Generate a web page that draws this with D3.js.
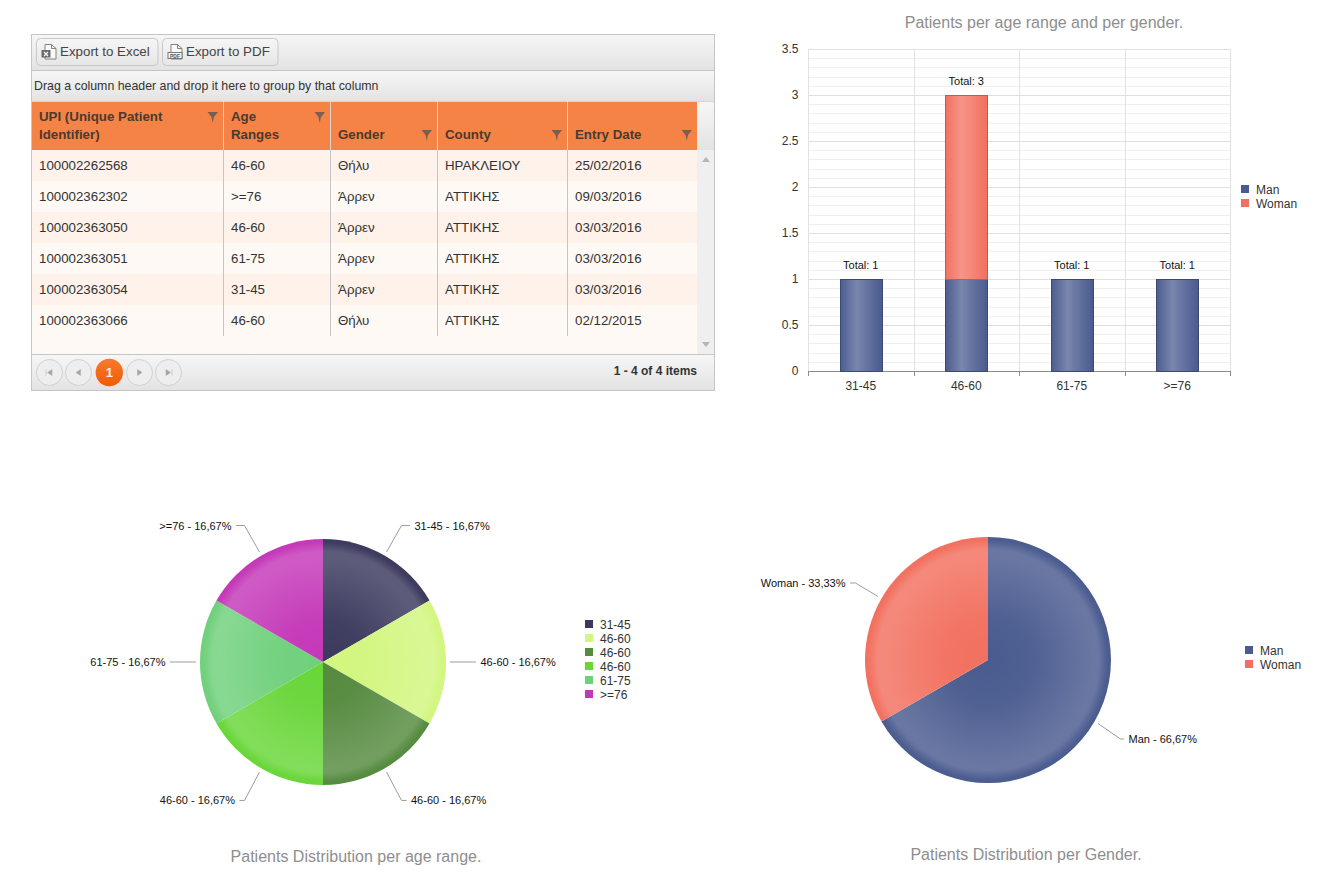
<!DOCTYPE html>
<html>
<head>
<meta charset="utf-8">
<script src="https://cdn.jsdelivr.net/npm/d3@7"></script>
<style>
    html, body { margin: 0; padding: 0; background: #fff; overflow: hidden; }
    svg { display: block; font-family: "Liberation Sans", Arial, sans-serif; }
</style>
</head>
<body>
<svg id="page" width="1322" height="870"></svg>
<script>
// grid data
var gridColumns = [["UPI (Unique Patient", "Identifier)"], ["Age", "Ranges"], ["Gender"], ["County"], ["Entry Date"]];
var upiValues = ["100002262568", "100002362302", "100002363050", "100002363051", "100002363054", "100002363066"];
var rowAges = ["46-60", ">=76", "46-60", "61-75", "31-45", "46-60"];
var rowGenders = ["Θήλυ", "Άρρεν", "Άρρεν", "Άρρεν", "Άρρεν", "Θήλυ"];
var rowCounties = ["ΗΡΑΚΛΕΙΟΥ", "ΑΤΤΙΚΗΣ", "ΑΤΤΙΚΗΣ", "ΑΤΤΙΚΗΣ", "ΑΤΤΙΚΗΣ", "ΑΤΤΙΚΗΣ"];
var rowDates = ["25/02/2016", "09/03/2016", "03/03/2016", "03/03/2016", "03/03/2016", "02/12/2015"];

// stacked bar data
var ageRanges = ["31-45", "46-60", "61-75", ">=76"];
var manCounts = [1, 1, 1, 1];
var womanCounts = [0, 2, 0, 0];
var yTicks = [0, 0.5, 1, 1.5, 2, 2.5, 3, 3.5];

// pie data
var agePieLabels = ["31-45", "46-60", "46-60", "46-60", "61-75", ">=76"];
var agePieValues = [1, 1, 1, 1, 1, 1];
var agePiePercents = ["16,67%", "16,67%", "16,67%", "16,67%", "16,67%", "16,67%"];
var agePieColors = ["#3b3a5e", "#d2f67e", "#558a3f", "#68d638", "#6fd07b", "#c438b8"];
var genderLabels = ["Man", "Woman"];
var genderValues = [2, 1];
var genderPercents = ["66,67%", "33,33%"];
var genderColors = ["#4a5b8f", "#f2705f"];

var svg = d3.select("#page");
var defs = svg.append("defs");

function addVerticalGradient(id, top, bottom) {
    var g = defs.append("linearGradient").attr("id", id).attr("x1", 0).attr("y1", 0).attr("x2", 0).attr("y2", 1);
    g.append("stop").attr("offset", "0").attr("stop-color", top);
    g.append("stop").attr("offset", "1").attr("stop-color", bottom);
}
addVerticalGradient("bar-grad", "#f6f6f6", "#e3e3e3");
addVerticalGradient("btn-grad", "#f6f6f6", "#e6e6e6");
addVerticalGradient("pager-on", "#f97b2c", "#f05a06");

// soft highlight across a column
var glass = defs.append("linearGradient").attr("id", "glass");
[[0, 0.02], [0.38, 0.26], [1, 0]].forEach(function(s) {
    glass.append("stop").attr("offset", s[0]).attr("stop-color", "#fff").attr("stop-opacity", s[1]);
});

// ring highlight on the pies, radius is the pie radius
var bevel = defs.append("radialGradient").attr("id", "bevel")
    .attr("gradientUnits", "userSpaceOnUse").attr("cx", 0).attr("cy", 0).attr("r", 123);
[[0, 0], [0.35, 0.03], [0.84, 0.17], [0.9, 0.17], [0.97, 0.02], [1, 0]].forEach(function(s) {
    bevel.append("stop").attr("offset", s[0]).attr("stop-color", "#fff").attr("stop-opacity", s[1]);
});

drawGrid(svg.append("g"));
drawBars(svg.append("g"));
drawPie(svg.append("g").attr("transform", "translate(323,662)"), agePieLabels, agePieValues, agePiePercents, agePieColors, 157, 8.5, 5);
drawPie(svg.append("g").attr("transform", "translate(988,660)"), genderLabels, genderValues, genderPercents, genderColors, 153, 5.5, 3.5);
drawLegend(agePieLabels, agePieColors, 585, 624);
drawLegend(genderLabels, genderColors, 1245, 650);
drawLegend(genderLabels, genderColors, 1241, 189);

title("Patients per age range and per gender.", 1044, 28);
title("Patients Distribution per age range.", 356, 862);
title("Patients Distribution per Gender.", 1026, 860);

function title(text, x, y) {
    svg.append("text").text(text).attr("x", x).attr("y", y)
        .attr("text-anchor", "middle").attr("font-size", 16).attr("fill", "#8e8e8e");
}

function drawLegend(labels, colors, x, y) {
    var rows = svg.append("g").selectAll("g").data(labels).enter().append("g")
        .attr("transform", function(d, i) { return "translate(" + x + "," + (y + i * 14) + ")"; });
    rows.append("rect").attr("y", -4).attr("width", 8).attr("height", 8)
        .attr("fill", function(d, i) { return colors[i]; });
    rows.append("text").text(function(d) { return d; }).attr("x", 15).attr("y", 4.5)
        .attr("font-size", 12).attr("fill", "#333");
}

function drawPie(g, labels, values, percents, colors, elbowR, upperTail, lowerTail) {
    var radius = 123, gap = 4.5;
    var slices = d3.pie().sort(null)(values);
    var arc = d3.arc().innerRadius(0).outerRadius(radius);
    var lineFrom = d3.arc().innerRadius(127).outerRadius(127);

    g.selectAll("path.slice").data(slices).enter().append("path").attr("class", "slice")
        .attr("d", arc).attr("fill", function(d, i) { return colors[i]; });
    g.selectAll("path.shine").data(slices).enter().append("path").attr("class", "shine")
        .attr("d", arc).attr("fill", "url(#bevel)");

    slices.forEach(function(d, i) {
        var mid = (d.startAngle + d.endAngle) / 2;
        var side = mid < Math.PI ? 1 : -1;
        var level = Math.abs(Math.cos(mid)) < 0.01;
        var r = level ? elbowR - 4 : elbowR;
        var a = lineFrom.centroid(d);
        var b = d3.arc().innerRadius(r).outerRadius(r).centroid(d);
        var run = level ? 0 : (b[1] > 0 ? lowerTail : upperTail);
        if (!level) b[1] += 1 + (b[1] > 0 ? 1.5 : -1.5);
        var line = d3.line()([a, b, [b[0] + side * run, b[1]]]);
        g.append("path").attr("d", line).attr("fill", "none").attr("stroke", "#9c9c9c").attr("stroke-width", 1);
        g.append("text").text(labels[i] + " - " + percents[i])
            .attr("x", b[0] + side * (run + gap)).attr("y", b[1] + 4)
            .attr("text-anchor", side > 0 ? "start" : "end")
            .attr("font-size", 11).attr("fill", "#111");
    });
}

function drawBars(g) {
    var x = d3.scaleBand().domain(ageRanges).range([808, 1230]).paddingInner(0.6).paddingOuter(0.3);
    var y = d3.scaleLinear().domain([0, 3.5]).range([371, 49]);
    var table = ageRanges.map(function(a, i) { return {age: a, Man: manCounts[i], Woman: womanCounts[i]}; });
    var series = d3.stack().keys(genderLabels)(table);

    // minor then major grid lines
    g.append("g").selectAll("line").data(d3.range(0, 36).map(function(d) { return d / 10; })).enter().append("line")
        .attr("x1", 808).attr("x2", 1230)
        .attr("y1", function(d) { return Math.round(y(d)) + 0.5; })
        .attr("y2", function(d) { return Math.round(y(d)) + 0.5; })
        .attr("stroke", "#efefef");
    g.append("g").selectAll("line").data(yTicks).enter().append("line")
        .attr("x1", 808).attr("x2", 1230)
        .attr("y1", function(d) { return Math.round(y(d)) + 0.5; })
        .attr("y2", function(d) { return Math.round(y(d)) + 0.5; })
        .attr("stroke", "#dfdfdf");
    g.append("g").selectAll("line").data(ageRanges.concat(["end"])).enter().append("line")
        .attr("x1", function(d, i) { return Math.round(808 + i * x.step()) + 0.5; })
        .attr("x2", function(d, i) { return Math.round(808 + i * x.step()) + 0.5; })
        .attr("y1", 49).attr("y2", 371)
        .attr("stroke", "#e2e2e2");

    var yAxis = g.append("g").attr("transform", "translate(808.5,0)")
        .call(d3.axisLeft(y).tickValues(yTicks).tickSize(0).tickPadding(10).tickFormat(function(d) { return String(d); }));
    yAxis.select(".domain").remove();
    yAxis.selectAll("text").attr("font-family", "inherit").attr("font-size", 12).attr("fill", "#333");

    var xAxis = g.append("g").attr("transform", "translate(0,371.5)")
        .call(d3.axisBottom(x).tickSize(0).tickPadding(10));
    xAxis.select(".domain").remove();
    xAxis.selectAll("text").attr("font-family", "inherit").attr("font-size", 12).attr("fill", "#333");
    g.append("line").attr("x1", 808).attr("x2", 1231).attr("y1", 371.5).attr("y2", 371.5).attr("stroke", "#8c8c8c");
    g.append("g").selectAll("line").data(ageRanges.concat(["end"])).enter().append("line")
        .attr("x1", function(d, i) { return Math.round(808 + i * x.step()) + 0.5; })
        .attr("x2", function(d, i) { return Math.round(808 + i * x.step()) + 0.5; })
        .attr("y1", 371).attr("y2", 376)
        .attr("stroke", "#8c8c8c");

    series.forEach(function(s, k) {
        var points = s.filter(function(d) { return d[1] > d[0]; });
        var color = genderColors[k];
        var bars = g.append("g").selectAll("g").data(points).enter().append("g");
        bars.append("rect")
            .attr("x", function(d) { return Math.round(x(d.data.age)) + 0.5; })
            .attr("y", function(d) { return Math.round(y(d[1])) + 0.5; })
            .attr("width", Math.round(x.bandwidth()))
            .attr("height", function(d) { return Math.round(y(d[0])) - Math.round(y(d[1])); })
            .attr("fill", color)
            .attr("stroke", d3.color(color).darker(0.6));
        bars.append("rect")
            .attr("x", function(d) { return Math.round(x(d.data.age)) + 1; })
            .attr("y", function(d) { return Math.round(y(d[1])) + 1; })
            .attr("width", Math.round(x.bandwidth()) - 1)
            .attr("height", function(d) { return Math.round(y(d[0])) - Math.round(y(d[1])) - 1; })
            .attr("fill", "url(#glass)");
    });

    g.append("g").selectAll("text").data(table).enter().append("text")
        .text(function(d) { return "Total: " + (d.Man + d.Woman); })
        .attr("x", function(d) { return x(d.age) + x.bandwidth() / 2; })
        .attr("y", function(d) { return y(d.Man + d.Woman) - 10; })
        .attr("text-anchor", "middle").attr("font-size", 11).attr("fill", "#111");
}

function drawGrid(g) {
    var left = 31, right = 714, headerTop = 101, rowsTop = 150, rowH = 31;
    var edges = [31, 223, 330, 437, 567, 697];
    var columns = [upiValues, rowAges, rowGenders, rowCounties, rowDates];
    var border = "#c5c5c5";

    g.append("rect").attr("x", left + 0.5).attr("y", 34.5).attr("width", right - left).attr("height", 356)
        .attr("fill", "#fef9f5").attr("stroke", border);

    // toolbar and group bar
    g.append("rect").attr("x", left + 1).attr("y", 35).attr("width", right - left - 1).attr("height", 35).attr("fill", "url(#bar-grad)");
    g.append("rect").attr("x", left + 1).attr("y", 71).attr("width", right - left - 1).attr("height", 30).attr("fill", "url(#bar-grad)");
    g.append("line").attr("x1", left).attr("x2", right).attr("y1", 70.5).attr("y2", 70.5).attr("stroke", border);
    g.append("line").attr("x1", left).attr("x2", right).attr("y1", 101.5).attr("y2", 101.5).attr("stroke", "#d5d5d5");
    g.append("text").text("Drag a column header and drop it here to group by that column")
        .attr("x", 34).attr("y", 90).attr("font-size", 12.35).attr("fill", "#333");

    excelIcon(toolButton(g, 36.5, 121.5, "Export to Excel"));
    pdfIcon(toolButton(g, 162.5, 115.5, "Export to PDF"));

    // header
    g.append("rect").attr("x", left + 1).attr("y", headerTop + 1).attr("width", edges[5] - left - 1).attr("height", rowsTop - headerTop - 1).attr("fill", "#f68346");
    g.append("rect").attr("x", edges[5]).attr("y", headerTop + 1).attr("width", right - edges[5]).attr("height", rowsTop - headerTop - 1).attr("fill", "url(#bar-grad)");

    gridColumns.forEach(function(lines, c) {
        var x0 = edges[c];
        if (c > 0) {
            g.append("line").attr("x1", x0 + 0.5).attr("x2", x0 + 0.5).attr("y1", headerTop).attr("y2", rowsTop).attr("stroke", "#e4d3c8");
        }
        lines.forEach(function(t, i) {
            g.append("text").text(t)
                .attr("x", x0 + 8).attr("y", 139 - (lines.length - 1 - i) * 18)
                .attr("font-size", 13.3).attr("font-weight", "bold").attr("fill", "#4a3a30");
        });
        var funnelY = lines.length > 1 ? 112 : 130;
        g.append("path")
            .attr("d", "M0,0 H10.5 L6.5,5 L5.2,11 L4,5 Z")
            .attr("transform", "translate(" + (edges[c + 1] - 15.5) + "," + funnelY + ")")
            .attr("fill", "#7a5f4e");
    });

    // rows
    upiValues.forEach(function(u, r) {
        g.append("rect").attr("x", left + 1).attr("y", rowsTop + r * rowH).attr("width", edges[5] - left - 1).attr("height", rowH)
            .attr("fill", r % 2 == 0 ? "#fef2ea" : "#fef9f5");
    });
    columns.forEach(function(values, c) {
        g.append("g").selectAll("text").data(values).enter().append("text")
            .text(function(d) { return d; })
            .attr("x", edges[c] + 8)
            .attr("y", function(d, i) { return rowsTop + i * rowH + 20; })
            .attr("font-size", 13.3).attr("fill", "#333");
        if (c > 0) {
            g.append("line").attr("x1", edges[c] + 0.5).attr("x2", edges[c] + 0.5)
                .attr("y1", rowsTop).attr("y2", rowsTop + values.length * rowH).attr("stroke", border);
        }
    });

    // scrollbar
    g.append("rect").attr("x", edges[5]).attr("y", rowsTop).attr("width", right - edges[5]).attr("height", 204).attr("fill", "#efefef");
    g.append("path").attr("d", "M702,162 L706,157 L710,162 Z").attr("fill", "#b5b5b5");
    g.append("path").attr("d", "M702,342 L706,347 L710,342 Z").attr("fill", "#b5b5b5");

    // pager
    g.append("rect").attr("x", left + 1).attr("y", 355).attr("width", right - left - 1).attr("height", 35).attr("fill", "url(#bar-grad)");
    g.append("line").attr("x1", left).attr("x2", right).attr("y1", 354.5).attr("y2", 354.5).attr("stroke", border);

    var pagerButtons = [
        {x: 49.5, d: "M-3.5,-3 V3 M-2,0 L2.5,-3 V3 Z"},
        {x: 78.5, d: "M-2.5,0 L2,-3 V3 Z"},
        {x: 139.5, d: "M2.5,0 L-2,-3 V3 Z"},
        {x: 168.5, d: "M3.5,-3 V3 M2,0 L-2.5,-3 V3 Z"}
    ];
    pagerButtons.forEach(function(b) {
        var btn = g.append("g").attr("transform", "translate(" + b.x + ",372.5)");
        btn.append("circle").attr("r", 13).attr("fill", "#eee").attr("stroke", "#d0d0d0");
        btn.append("path").attr("d", b.d).attr("fill", "#a5a5a5").attr("stroke", "#a5a5a5").attr("stroke-width", 0.5);
    });
    g.append("circle").attr("cx", 109.3).attr("cy", 372.5).attr("r", 13.7).attr("fill", "url(#pager-on)");
    g.append("text").text("1").attr("x", 109.3).attr("y", 377).attr("text-anchor", "middle")
        .attr("font-size", 13).attr("font-weight", "bold").attr("fill", "#fff3e8");

    g.append("text").text("1 - 4 of 4 items").attr("x", 697).attr("y", 375).attr("text-anchor", "end")
        .attr("font-size", 12).attr("font-weight", "bold").attr("fill", "#333");
}

function toolButton(g, x, w, label) {
    g.append("rect").attr("x", x).attr("y", 38.5).attr("width", w).attr("height", 27).attr("rx", 4)
        .attr("fill", "url(#btn-grad)").attr("stroke", "#c9c9c9");
    g.append("text").text(label).attr("x", x + 23.5).attr("y", 56).attr("font-size", 13.35).attr("fill", "#444");
    var icon = g.append("g").attr("transform", "translate(" + (x + 5) + ",44)");
    icon.append("path").attr("d", "M3.5,0.5 H10 L14.5,4.5 V15 H3.5 Z").attr("fill", "#fafafa").attr("stroke", "#808080");
    icon.append("path").attr("d", "M10,0.5 V4.5 H14.5").attr("fill", "none").attr("stroke", "#808080");
    return icon;
}

function excelIcon(icon) {
    icon.append("rect").attr("x", 0).attr("y", 6).attr("width", 9).attr("height", 7.5).attr("fill", "#6b6b6b");
    icon.append("path").attr("d", "M2.5,8 L6.5,12 M6.5,8 L2.5,12").attr("stroke", "#fff").attr("stroke-width", 1.2);
}

function pdfIcon(icon) {
    icon.append("rect").attr("x", 0.5).attr("y", 8.5).attr("width", 14).attr("height", 6).attr("fill", "#f4f4f4").attr("stroke", "#777");
    icon.append("text").text("PDF").attr("x", 7.5).attr("y", 13.5).attr("text-anchor", "middle")
        .attr("font-size", 5).attr("font-weight", "bold").attr("fill", "#555");
}
</script>
</body>
</html>
